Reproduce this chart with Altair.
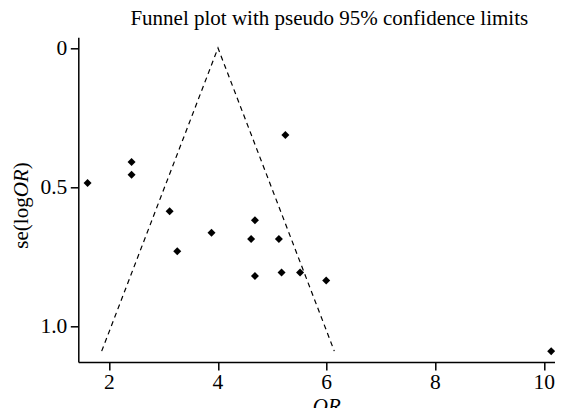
import altair as alt
import pandas as pd

# Study estimates
or_values = [1.60, 2.41, 2.41, 3.11, 3.25, 3.88, 4.68, 4.61, 5.12, 5.24, 4.68, 5.17, 5.51, 5.99, 10.13]
se_values = [0.485, 0.410, 0.456, 0.587, 0.731, 0.664, 0.619, 0.687, 0.687, 0.313, 0.820, 0.807, 0.807, 0.836, 1.09]

# Pseudo 95% confidence limit funnel vertices
funnel_or = [1.86, 4.0, 6.14]
funnel_se = [1.09, 0.0, 1.09]

x_ticks = [2, 4, 6, 8, 10]
x_tick_labels = ["2", "4", "6", "8", "10"]
y_ticks = [0, 0.5, 1.0]
y_tick_labels = ["0", "0.5", "1.0"]

title_text = "Funnel plot with pseudo 95% confidence limits"
ytitle_parts = ["se(log", "OR", ")"]
xtitle_text = "OR"

FONT = "Liberation Serif"
LABEL_SIZE = 21.5

points_df = pd.DataFrame({"OR": or_values, "se": se_values})
funnel_df = pd.DataFrame({"OR": funnel_or, "se": funnel_se, "i": list(range(len(funnel_or)))})
xlab_df = pd.DataFrame({"v": x_ticks, "t": x_tick_labels})
ylab_df = pd.DataFrame({"v": y_ticks, "t": y_tick_labels})

PLOT_W = 476.7
PLOT_H = 324.7

x_scale = alt.Scale(domain=[1.43, 10.20], nice=False, zero=False)
y_scale = alt.Scale(domain=[-0.0385, 1.129], nice=False, zero=False, reverse=True)

x_axis = alt.Axis(
    values=x_ticks, labels=False, grid=False, tickSize=8,
    domainColor="black", tickColor="black", domainWidth=1.5, tickWidth=1.5,
    title=xtitle_text, titleFont=FONT, titleFontSize=21, titleFontStyle="italic",
    titleFontWeight="normal", titleColor="black", titleX=248, titleY=33,
    titleBaseline="top", titleAlign="center", titleAngle=0,
)
y_axis = alt.Axis(
    values=y_ticks, labels=False, grid=False, tickSize=8,
    domainColor="black", tickColor="black", domainWidth=1.5, tickWidth=1.5,
    title=None,
)

funnel = alt.Chart(funnel_df).mark_line(
    color="black", strokeWidth=1.2, strokeDash=[5, 4]
).encode(
    x=alt.X("OR:Q", scale=x_scale, axis=x_axis),
    y=alt.Y("se:Q", scale=y_scale, axis=y_axis),
    order="i:Q",
)

points = alt.Chart(points_df).mark_point(
    shape="diamond", filled=True, color="black", size=64, opacity=1
).encode(
    x=alt.X("OR:Q", scale=x_scale, axis=x_axis),
    y=alt.Y("se:Q", scale=y_scale, axis=y_axis),
)

xlabels = alt.Chart(xlab_df).mark_text(
    font=FONT, fontSize=LABEL_SIZE, color="black", align="center", baseline="alphabetic"
).encode(
    x=alt.X("v:Q", scale=x_scale, axis=x_axis),
    y=alt.value(PLOT_H + 27),
    text="t:N",
)

ylabels = alt.Chart(ylab_df).mark_text(
    font=FONT, fontSize=LABEL_SIZE, color="black", align="right", baseline="middle", dy=1.2
).encode(
    x=alt.value(-11),
    y=alt.Y("v:Q", scale=y_scale, axis=y_axis),
    text="t:N",
)

title_mark = alt.Chart(pd.DataFrame({"t": [title_text]})).mark_text(
    font=FONT, fontSize=21, color="black", align="center", baseline="alphabetic"
).encode(text="t:N", x=alt.value(251), y=alt.value(-12.3))

yt1 = alt.Chart(pd.DataFrame({"t": [ytitle_parts[0]]})).mark_text(
    font=FONT, fontSize=21, color="black", align="right", baseline="alphabetic", angle=270
).encode(text="t:N", x=alt.value(-50), y=alt.value(160))

yt2 = alt.Chart(pd.DataFrame({"t": [ytitle_parts[1]]})).mark_text(
    font=FONT, fontSize=21, fontStyle="italic", color="black", align="left",
    baseline="alphabetic", angle=270
).encode(text="t:N", x=alt.value(-50), y=alt.value(160))

yt3 = alt.Chart(pd.DataFrame({"t": [ytitle_parts[2]]})).mark_text(
    font=FONT, fontSize=21, color="black", align="left", baseline="alphabetic", angle=270
).encode(text="t:N", x=alt.value(-50), y=alt.value(132))

chart = alt.layer(funnel, points, xlabels, ylabels, title_mark, yt1, yt2, yt3).properties(
    width=PLOT_W,
    height=PLOT_H,
    autosize=alt.AutoSizeParams(type="none"),
    padding={"left": 70.3, "top": 29.3, "right": 0, "bottom": 46},
    background="white",
).configure_view(
    strokeWidth=0
)

chart.save("out.html", embed_options={"renderer": "svg", "actions": False})
